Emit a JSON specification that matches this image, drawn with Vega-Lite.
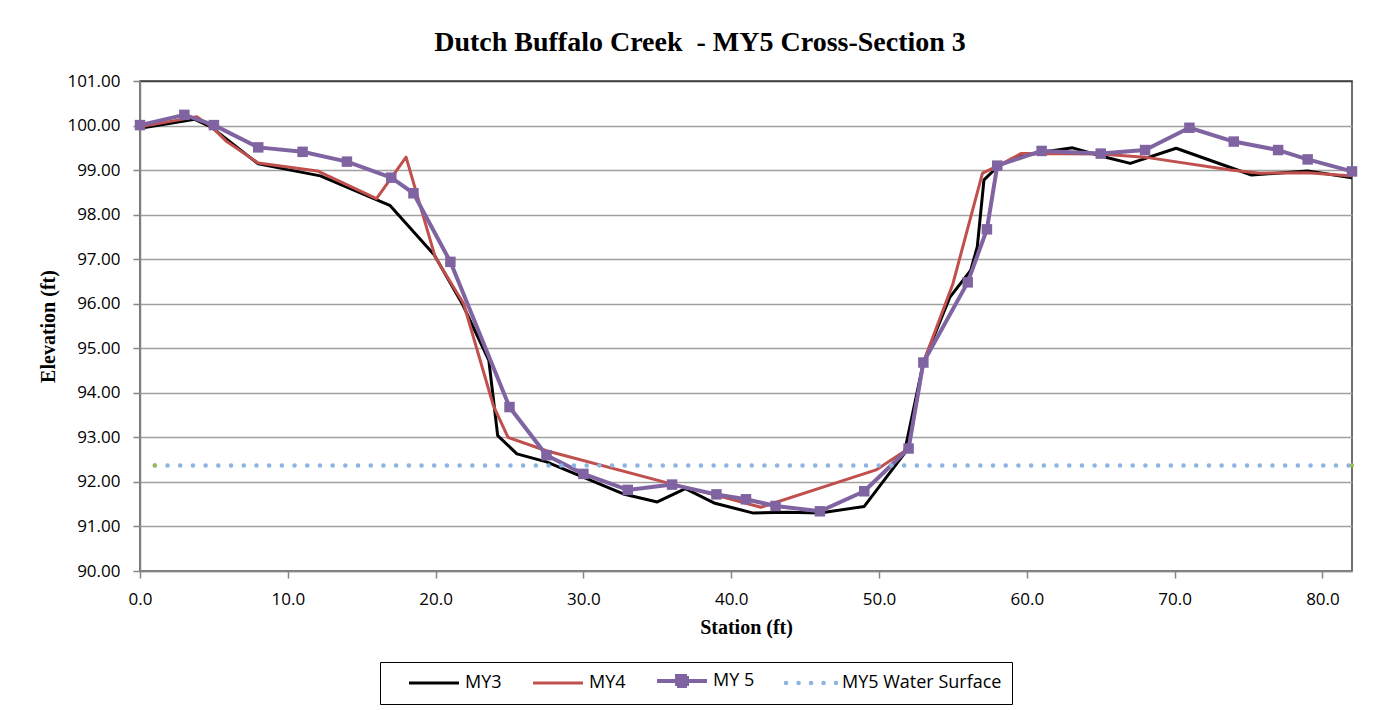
{
  "$schema": "https://vega.github.io/schema/vega-lite/v6.json",
  "width": 1212,
  "height": 490,
  "autosize": {"type": "none"},
  "padding": {"left": 140, "top": 81, "right": 38, "bottom": 139},
  "background": "white",
  "title": {
    "text": "Dutch Buffalo Creek\u00a0 - MY5 Cross-Section 3",
    "font": "Liberation Serif",
    "fontSize": 28,
    "fontWeight": "bold",
    "color": "#000000",
    "frame": "group",
    "anchor": "middle",
    "dx": -46,
    "baseline": "bottom",
    "offset": -13
  },
  "config": {
    "view": {"stroke": "#404040", "strokeWidth": 1.5},
    "axis": {
      "labelFont": "Open Sans",
      "labelFontSize": 17,
      "labelColor": "#000000",
      "labelFlush": false,
      "titleFont": "Liberation Serif",
      "titleFontSize": 20,
      "titleFontWeight": "bold",
      "titleColor": "#000000",
      "domainColor": "#868686",
      "domainWidth": 1.5,
      "tickColor": "#868686",
      "tickWidth": 1.5,
      "tickSize": 7,
      "labelPadding": 13
    }
  },
  "data": {
    "values": [
      {"series": "MY3", "station": 0.0, "elev": 99.94},
      {"series": "MY3", "station": 3.7, "elev": 100.14},
      {"series": "MY3", "station": 4.8, "elev": 99.97},
      {"series": "MY3", "station": 8.0, "elev": 99.14},
      {"series": "MY3", "station": 12.2, "elev": 98.87},
      {"series": "MY3", "station": 16.9, "elev": 98.21},
      {"series": "MY3", "station": 19.9, "elev": 97.1},
      {"series": "MY3", "station": 21.8, "elev": 96.0},
      {"series": "MY3", "station": 23.6, "elev": 94.73},
      {"series": "MY3", "station": 24.2, "elev": 93.04},
      {"series": "MY3", "station": 25.5, "elev": 92.63},
      {"series": "MY3", "station": 27.5, "elev": 92.45},
      {"series": "MY3", "station": 32.7, "elev": 91.73},
      {"series": "MY3", "station": 35.0, "elev": 91.55},
      {"series": "MY3", "station": 36.9, "elev": 91.85},
      {"series": "MY3", "station": 38.9, "elev": 91.52},
      {"series": "MY3", "station": 41.5, "elev": 91.3},
      {"series": "MY3", "station": 43.8, "elev": 91.32},
      {"series": "MY3", "station": 46.0, "elev": 91.3},
      {"series": "MY3", "station": 49.0, "elev": 91.45},
      {"series": "MY3", "station": 51.7, "elev": 92.63},
      {"series": "MY3", "station": 53.0, "elev": 94.68},
      {"series": "MY3", "station": 54.8, "elev": 96.15},
      {"series": "MY3", "station": 56.2, "elev": 96.75},
      {"series": "MY3", "station": 56.65, "elev": 97.28},
      {"series": "MY3", "station": 57.1, "elev": 98.78},
      {"series": "MY3", "station": 58.0, "elev": 99.07},
      {"series": "MY3", "station": 59.1, "elev": 99.27},
      {"series": "MY3", "station": 61.0, "elev": 99.4},
      {"series": "MY3", "station": 63.1, "elev": 99.5},
      {"series": "MY3", "station": 65.2, "elev": 99.3},
      {"series": "MY3", "station": 67.0, "elev": 99.15},
      {"series": "MY3", "station": 70.1, "elev": 99.49},
      {"series": "MY3", "station": 75.2, "elev": 98.89},
      {"series": "MY3", "station": 79.0, "elev": 98.98},
      {"series": "MY3", "station": 82.0, "elev": 98.83},
      {"series": "MY4", "station": 0.0, "elev": 99.97},
      {"series": "MY4", "station": 3.84, "elev": 100.2},
      {"series": "MY4", "station": 4.85, "elev": 99.97},
      {"series": "MY4", "station": 5.87, "elev": 99.64},
      {"series": "MY4", "station": 8.0, "elev": 99.16},
      {"series": "MY4", "station": 12.0, "elev": 98.98},
      {"series": "MY4", "station": 16.0, "elev": 98.36},
      {"series": "MY4", "station": 18.0, "elev": 99.29},
      {"series": "MY4", "station": 19.97, "elev": 97.05},
      {"series": "MY4", "station": 21.9, "elev": 96.0},
      {"series": "MY4", "station": 23.9, "elev": 93.72},
      {"series": "MY4", "station": 24.9, "elev": 93.0},
      {"series": "MY4", "station": 27.5, "elev": 92.7},
      {"series": "MY4", "station": 36.0, "elev": 91.95},
      {"series": "MY4", "station": 39.0, "elev": 91.7},
      {"series": "MY4", "station": 42.0, "elev": 91.43},
      {"series": "MY4", "station": 49.8, "elev": 92.27},
      {"series": "MY4", "station": 52.0, "elev": 92.75},
      {"series": "MY4", "station": 53.0, "elev": 94.68},
      {"series": "MY4", "station": 55.0, "elev": 96.45},
      {"series": "MY4", "station": 57.0, "elev": 98.93},
      {"series": "MY4", "station": 57.9, "elev": 99.07},
      {"series": "MY4", "station": 59.6, "elev": 99.37},
      {"series": "MY4", "station": 65.0, "elev": 99.36},
      {"series": "MY4", "station": 68.2, "elev": 99.28},
      {"series": "MY4", "station": 73.8, "elev": 99.0},
      {"series": "MY4", "station": 75.8, "elev": 98.93},
      {"series": "MY4", "station": 79.0, "elev": 98.94},
      {"series": "MY4", "station": 82.0, "elev": 98.87},
      {"series": "MY 5", "station": 0.0, "elev": 100.01},
      {"series": "MY 5", "station": 3.0, "elev": 100.24},
      {"series": "MY 5", "station": 5.0, "elev": 100.01},
      {"series": "MY 5", "station": 8.0, "elev": 99.51},
      {"series": "MY 5", "station": 11.0, "elev": 99.41},
      {"series": "MY 5", "station": 14.0, "elev": 99.19},
      {"series": "MY 5", "station": 17.0, "elev": 98.83},
      {"series": "MY 5", "station": 18.5, "elev": 98.48},
      {"series": "MY 5", "station": 21.0, "elev": 96.94},
      {"series": "MY 5", "station": 25.0, "elev": 93.68},
      {"series": "MY 5", "station": 27.5, "elev": 92.6},
      {"series": "MY 5", "station": 30.0, "elev": 92.18},
      {"series": "MY 5", "station": 33.0, "elev": 91.82},
      {"series": "MY 5", "station": 36.0, "elev": 91.94},
      {"series": "MY 5", "station": 39.0, "elev": 91.72},
      {"series": "MY 5", "station": 41.0, "elev": 91.61},
      {"series": "MY 5", "station": 43.0, "elev": 91.46},
      {"series": "MY 5", "station": 46.0, "elev": 91.34},
      {"series": "MY 5", "station": 49.0, "elev": 91.79},
      {"series": "MY 5", "station": 52.0, "elev": 92.75},
      {"series": "MY 5", "station": 53.0, "elev": 94.68},
      {"series": "MY 5", "station": 56.0, "elev": 96.48},
      {"series": "MY 5", "station": 57.3, "elev": 97.67},
      {"series": "MY 5", "station": 58.0, "elev": 99.1},
      {"series": "MY 5", "station": 61.0, "elev": 99.43},
      {"series": "MY 5", "station": 65.0, "elev": 99.37},
      {"series": "MY 5", "station": 68.0, "elev": 99.45},
      {"series": "MY 5", "station": 71.0, "elev": 99.95},
      {"series": "MY 5", "station": 74.0, "elev": 99.64},
      {"series": "MY 5", "station": 77.0, "elev": 99.45},
      {"series": "MY 5", "station": 79.0, "elev": 99.24},
      {"series": "MY 5", "station": 82.0, "elev": 98.97},
      {"series": "MY5 Water Surface", "station": 1.0, "elev": 92.37},
      {"series": "MY5 Water Surface", "station": 82.0, "elev": 92.37}
    ]
  },
  "encoding": {
    "x": {
      "field": "station",
      "type": "quantitative",
      "title": "Station (ft)",
      "scale": {"domain": [0, 82], "nice": false, "zero": false},
      "axis": {
        "values": [0, 10, 20, 30, 40, 50, 60, 70, 80],
        "format": ".1f",
        "grid": false,
        "titlePadding": 10
      }
    },
    "y": {
      "field": "elev",
      "type": "quantitative",
      "title": "Elevation (ft)",
      "scale": {"domain": [90, 101], "nice": false, "zero": false},
      "axis": {
        "values": [90, 91, 92, 93, 94, 95, 96, 97, 98, 99, 100, 101],
        "format": ".2f",
        "grid": true,
        "gridColor": {"condition": {"test": "datum.value === 101", "value": "#404040"}, "value": "#a0a0a0"},
        "gridWidth": 1.4,
        "titlePadding": 8
      }
    }
  },
  "layer": [
    {
      "transform": [{"filter": "datum.series === 'MY3'"}],
      "mark": {"type": "line", "strokeWidth": 3, "strokeJoin": "round"},
      "encoding": {
        "color": {
          "field": "series",
          "type": "nominal",
          "scale": {
            "domain": ["MY3", "MY4", "MY 5", "MY5 Water Surface"],
            "range": ["#000000", "#C0504D", "#8064A2", "#8EB4E3"]
          },
          "legend": {
            "orient": "none",
            "legendX": 240,
            "legendY": 581,
            "direction": "horizontal",
            "title": null,
            "strokeColor": "#000000",
            "fillColor": "#ffffff",
            "padding": 10,
            "symbolType": "stroke",
            "symbolSize": 2500,
            "symbolStrokeWidth": 3,
            "symbolOffset": 35,
            "labelOffset": 22,
            "columnPadding": 12,
            "labelFont": "Open Sans",
            "labelFontSize": 18,
            "labelColor": "#000000",
            "encode": {
              "symbols": {
                "update": {
                  "shape": {"signal": "datum.value === 'MY 5' ? 'M-1,0H1M-0.2,-0.2H0.2V0.2H-0.2Z' : 'stroke'"},
                  "fill": {"signal": "datum.value === 'MY 5' ? '#8064A2' : 'transparent'"},
                  "strokeWidth": {"signal": "datum.value === 'MY 5' ? 4 : (datum.value === 'MY5 Water Surface' ? 4.5 : 3)"},
                  "strokeDash": {"signal": "datum.value === 'MY5 Water Surface' ? [0.1, 12.4] : [1, 0]"},
                  "strokeCap": {"signal": "datum.value === 'MY5 Water Surface' ? 'round' : 'butt'"}
                }
              }
            }
          }
        }
      }
    },
    {
      "transform": [{"filter": "datum.series === 'MY4'"}],
      "mark": {"type": "line", "strokeWidth": 3, "strokeJoin": "round"},
      "encoding": {"color": {"field": "series", "type": "nominal"}}
    },
    {
      "transform": [{"filter": "datum.series === 'MY 5'"}],
      "mark": {"type": "line", "strokeWidth": 4, "strokeJoin": "round"},
      "encoding": {"color": {"field": "series", "type": "nominal"}}
    },
    {
      "transform": [{"filter": "datum.series === 'MY 5'"}],
      "mark": {"type": "point", "shape": "square", "size": 110, "filled": true, "opacity": 1, "color": "#8064A2"}
    },
    {
      "transform": [{"filter": "datum.series === 'MY5 Water Surface'"}],
      "mark": {"type": "line", "strokeWidth": 4.5, "strokeCap": "round", "strokeDash": [0.1, 12.6]},
      "encoding": {"color": {"field": "series", "type": "nominal"}}
    },
    {
      "transform": [{"filter": "datum.series === 'MY5 Water Surface'"}],
      "mark": {"type": "point", "shape": "circle", "size": 18, "filled": true, "opacity": 1, "color": "#9BBB59"}
    }
  ]
}
